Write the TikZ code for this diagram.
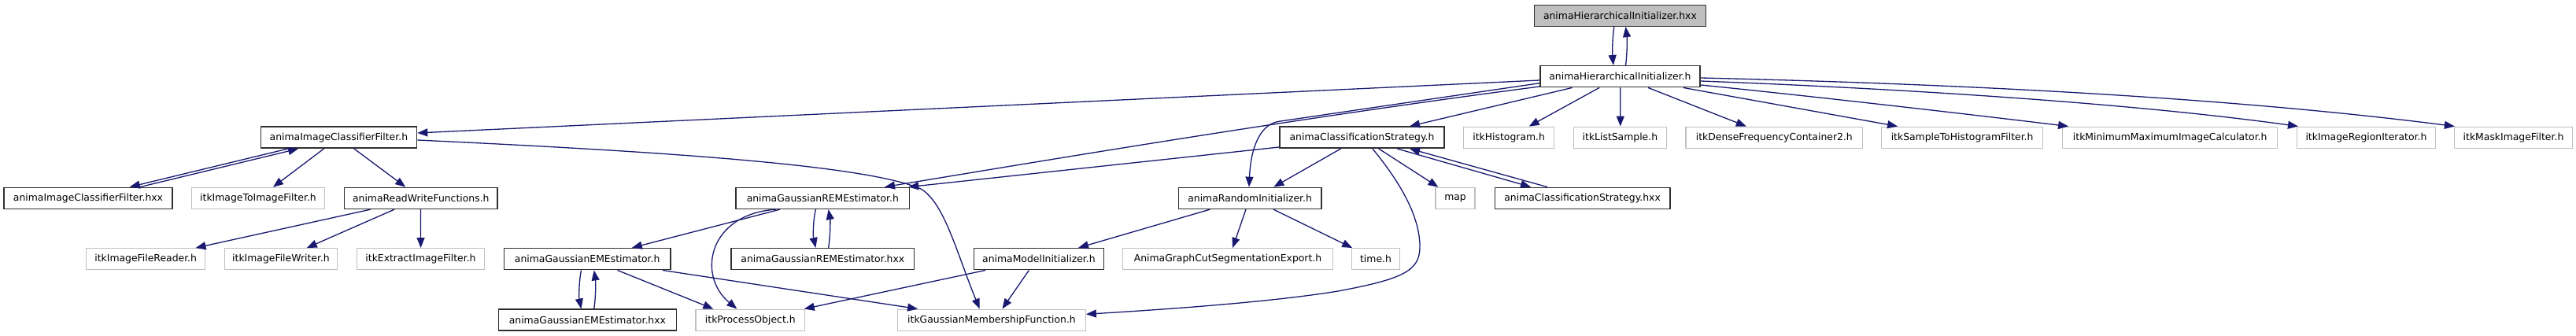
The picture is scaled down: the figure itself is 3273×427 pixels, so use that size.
\documentclass[tikz,border=0pt]{standalone}
\usepackage{fontspec}
\setmainfont{DejaVu Sans}
\usetikzlibrary{arrows.meta}
\definecolor{edgeblue}{HTML}{191970}
\definecolor{boxblack}{HTML}{303030}
\definecolor{boxgray}{HTML}{BFBFBF}
\definecolor{rootgray}{HTML}{BFBFBF}
\tikzset{
  box/.style={draw=boxblack, line width=1.5pt, minimum height=27pt, inner sep=0pt,
    font=\fontsize{12.4}{15}\selectfont, text=black},
  gbox/.style={box, draw=boxgray, line width=1.3pt},
  rootbox/.style={box, fill=rootgray},
  e/.style={draw=edgeblue, line width=1.3pt, -{Triangle[length=13pt,width=10pt]}},
}
\begin{document}
\begin{tikzpicture}[x=1pt,y=-1pt]
\fill[white] (0,0) rectangle (3273,427);
\useasboundingbox (0,0) rectangle (3273,427);
% rank 0 / 1
\node[rootbox, minimum width=217.7pt] (root) at (2058.4,19.9) {animaHierarchicalInitializer.hxx};
\node[box, minimum width=203.2pt] (hier) at (2058.4,97.2) {animaHierarchicalInitializer.h};
% rank 2
\node[box, minimum width=198.3pt] (icf) at (430.4,174.7) {animaImageClassifierFilter.h};
\node[box, minimum width=209.4pt] (cs) at (1730.5,174.7) {animaClassificationStrategy.h};
\node[gbox, minimum width=115.1pt] (hist) at (1917.2,174.7) {itkHistogram.h};
\node[gbox, minimum width=118.3pt] (list) at (2058.4,174.7) {itkListSample.h};
\node[gbox, minimum width=224.5pt] (dense) at (2254.3,174.7) {itkDenseFrequencyContainer2.h};
\node[gbox, minimum width=205.3pt] (s2h) at (2493.1,174.7) {itkSampleToHistogramFilter.h};
\node[gbox, minimum width=272.9pt] (minmax) at (2757.2,174.7) {itkMinimumMaximumImageCalculator.h};
\node[gbox, minimum width=175.6pt] (region) at (3006.4,174.7) {itkImageRegionIterator.h};
\node[gbox, minimum width=150pt] (mask) at (3193.5,174.7) {itkMaskImageFilter.h};
% rank 3
\node[box, minimum width=214pt] (icfx) at (112,251.9) {animaImageClassifierFilter.hxx};
\node[gbox, minimum width=169pt] (i2i) at (328,251.9) {itkImageToImageFilter.h};
\node[box, minimum width=194.6pt] (rw) at (534.8,251.9) {animaReadWriteFunctions.h};
\node[box, minimum width=220.3pt] (rem) at (1045.3,251.9) {animaGaussianREMEstimator.h};
\node[box, minimum width=181.3pt] (rand) at (1588.1,251.9) {animaRandomInitializer.h};
\node[gbox, minimum width=49.8pt] (map) at (1849,251.9) {map};
\node[box, minimum width=222.4pt] (csx) at (2010.6,251.9) {animaClassificationStrategy.hxx};
% rank 4
\node[gbox, minimum width=151.2pt] (reader) at (185.2,329.2) {itkImageFileReader.h};
\node[gbox, minimum width=142.4pt] (writer) at (357,329.2) {itkImageFileWriter.h};
\node[gbox, minimum width=161.7pt] (extract) at (534.5,329.2) {itkExtractImageFilter.h};
\node[box, minimum width=211.7pt] (em) at (746.2,329.2) {animaGaussianEMEstimator.h};
\node[box, minimum width=232.8pt] (remx) at (1045.3,329.2) {animaGaussianREMEstimator.hxx};
\node[box, minimum width=164.8pt] (model) at (1319.9,329.2) {animaModelInitializer.h};
\node[gbox, minimum width=266.5pt] (graphcut) at (1560,329.2) {AnimaGraphCutSegmentationExport.h};
\node[gbox, minimum width=61.3pt] (time) at (1748,329.2) {time.h};
% rank 5
\node[box, minimum width=225.7pt] (emx) at (746.4,406.7) {animaGaussianEMEstimator.hxx};
\node[gbox, minimum width=138.6pt] (proc) at (953.3,406.7) {itkProcessObject.h};
\node[gbox, minimum width=238.5pt] (gmf) at (1260,406.7) {itkGaussianMembershipFunction.h};

% edges
\draw[e] ([xshift=102pt]root.south west) .. controls (2048.5,50) and (2048.5,68) .. ([xshift=93.8pt]hier.north west);
\draw[e] ([xshift=109.5pt]hier.north west) .. controls (2067.5,68) and (2067.5,50) .. ([xshift=116.7pt]root.south west);
\draw[e] ([yshift=-4.8pt]hier.west) -- ([yshift=5.7pt]icf.east);
\draw[e] ([yshift=-3.3pt]icf.east) .. controls (850,193) and (1100,210) .. (1170,240) .. controls (1200,258) and (1215,320) .. ([xshift=104.6pt]gmf.north west);
\draw[e] ([yshift=-12.8pt]hier.west) .. controls (1656.7,149) and (1374,196.2) .. ([xshift=189.6pt]rem.north west);
\draw[e] ([yshift=-8.5pt]hier.west) -- (1625,154.3) .. controls (1600,158) and (1589,190) .. ([xshift=90.3pt]rand.north west);
\draw[e] ([yshift=-12.3pt]cs.west) -- ([xshift=-2pt]rem.north east);
\draw[e] ([xshift=41.5pt]hier.south west) -- ([xshift=166pt]cs.north west);
\draw[e] ([xshift=76pt]hier.south west) -- ([xshift=83.7pt]hist.north west);
\draw[e] ([xshift=102.7pt]hier.south west) -- ([xshift=60.2pt]list.north west);
\draw[e] ([xshift=138pt]hier.south west) -- ([xshift=77.4pt]dense.north west);
\draw[e] ([xshift=182.7pt]hier.south west) -- ([xshift=21.3pt]s2h.north west);
\draw[e] ([yshift=-10.8pt]hier.east) .. controls (2300,122) and (2500,145) .. ([xshift=8pt]minmax.north west);
\draw[e] ([yshift=-5.8pt]hier.east) .. controls (2400,112) and (2700,130) .. ([xshift=2pt]region.north west);
\draw[e] ([yshift=-1.8pt]hier.east) .. controls (2460,106) and (2818,122) .. ([xshift=1pt]mask.north west);
\draw[e] ([xshift=78.6pt]cs.south west) -- ([xshift=121.6pt]rand.north west);
\draw[e] ([xshift=126.7pt]cs.south west) -- ([xshift=4pt]map.north west);
\draw[e] ([xshift=150pt]cs.south west) -- ([xshift=46.4pt]csx.north west);
\draw[e] ([xshift=67.4pt]csx.north west) -- ([xshift=166pt]cs.south west);
\draw[e] ([xshift=118.8pt]cs.south west) .. controls (1790,245) and (1804.5,285) .. (1804,315) .. controls (1803.5,345) and (1780,355) .. (1700,370) .. controls (1620,383) and (1500,392) .. ([yshift=7.4pt]gmf.east);
\draw[e] ([xshift=40.7pt]rand.south west) -- ([xshift=133.3pt]model.north west);
\draw[e] ([xshift=86.3pt]rand.south west) -- ([xshift=140pt]graphcut.north west);
\draw[e] ([xshift=121.3pt]rand.south west) -- ([xshift=1.5pt]time.north west);
\draw[e] ([xshift=15.3pt]model.south west) -- ([xshift=-1.5pt]proc.north east);
\draw[e] ([xshift=70.6pt]model.south west) -- ([xshift=133.3pt]gmf.north west);
\draw[e] ([xshift=56.6pt]rem.south west) -- ([xshift=163.2pt]em.north west);
\draw[e] ([xshift=51.3pt]rem.south west) .. controls (900,272) and (885,350) .. ([xshift=53pt]proc.north west);
\draw[e] ([xshift=102pt]rem.south west) .. controls (1033,280) and (1033,300) .. ([xshift=108.3pt]remx.north west);
\draw[e] ([xshift=124.5pt]remx.north west) .. controls (1055,300) and (1055,280) .. ([xshift=118.2pt]rem.south west);
\draw[e] ([xshift=98.9pt]em.south west) .. controls (735.5,358) and (735.5,378) .. ([xshift=105.7pt]emx.north west);
\draw[e] ([xshift=121.9pt]emx.north west) .. controls (757,378) and (757,358) .. ([xshift=115.1pt]em.south west);
\draw[e] ([xshift=144.9pt]em.south west) -- ([xshift=23pt]proc.north west);
\draw[e] ([xshift=202.2pt]em.south west) -- ([xshift=26pt]gmf.north west);
\draw[e] ([xshift=35.5pt]icf.south west) -- ([xshift=160.5pt]icfx.north west);
\draw[e] ([xshift=173.6pt]icfx.north west) -- ([xshift=48.7pt]icf.south west);
\draw[e] ([xshift=81.1pt]icf.south west) -- ([xshift=104.1pt]i2i.north west);
\draw[e] ([xshift=119.3pt]icf.south west) -- ([xshift=78.5pt]rw.north west);
\draw[e] ([xshift=34pt]rw.south west) -- ([xshift=139.6pt]reader.north west);
\draw[e] ([xshift=64.3pt]rw.south west) -- ([xshift=104.6pt]writer.north west);
\draw[e] ([xshift=97.8pt]rw.south west) -- ([xshift=81.6pt]extract.north west);
\end{tikzpicture}
\end{document}
